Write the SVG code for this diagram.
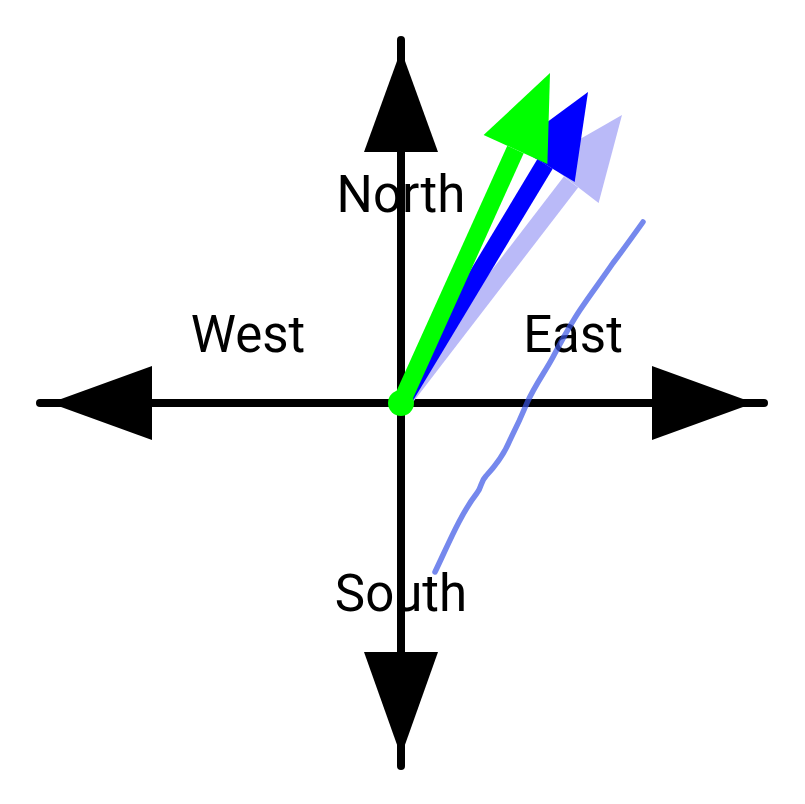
<svg xmlns="http://www.w3.org/2000/svg" width="805" height="804" viewBox="0 0 805 804">
<style>
.lbl{font-family:Roboto,"Liberation Sans",sans-serif;font-size:51px;fill:#000;text-anchor:middle}
.axis{stroke:#000;stroke-width:8;stroke-linecap:round;fill:none}
.head{fill:#000}
.shaft{stroke-width:18;stroke-linecap:butt;fill:none}
</style>
<rect width="805" height="804" fill="#fff"/>
<g id="labels">
<text id="north" class="lbl" x="401" y="212">North</text>
<text id="west" class="lbl" x="248" y="352">West</text>
<text id="east" class="lbl" x="573" y="352">East</text>
<text id="south" class="lbl" x="401" y="611">South</text>
</g>
<g id="axes">
<line class="axis" x1="40" y1="403" x2="764" y2="403"/>
<line class="axis" x1="401" y1="40" x2="401" y2="766"/>
<polygon class="head" points="50,403 152,366 152,440"/>
<polygon class="head" points="754,403 652,366 652,440"/>
<polygon class="head" points="401,50 364,152 438,152"/>
<polygon class="head" points="401,756 364,652 438,652"/>
</g>
<g id="vectors">
<g id="vec-light">
<line class="shaft" x1="401" y1="403" x2="571" y2="182" stroke="#babaf8" stroke-width="26"/>
<polygon points="622,115 598.6,202.9 543,160.3" fill="#babaf8"/>
</g>
<g id="vec-blue">
<line class="shaft" x1="401" y1="403" x2="545" y2="164" stroke="#0000ff"/>
<polygon points="588,92 574.7,182 514.7,146" fill="#0000ff"/>
</g>
<g id="vec-green">
<line class="shaft" x1="401" y1="403" x2="515.5" y2="149.5" stroke="#00ff00"/>
<polygon points="550,73 547.4,163.9 483.6,135.1" fill="#00ff00"/>
<circle cx="401" cy="403" r="13" fill="#00ff00"/>
</g>
</g>
<g id="trace">
<path d="M435,572 C448,545 460,515 477,493 C482,487 480,482 486,476 C498,463 505,452 510,440 C516,428 522,415 527,403 C535,385 545,372 553,357 C562,340 570,325 580,310 C592,292 600,282 613,263 C623,250 633,236 643,222" fill="none" stroke="#3a55e6" stroke-opacity="0.7" stroke-width="5.5" stroke-linecap="round" stroke-linejoin="round"/>
</g>
</svg>
